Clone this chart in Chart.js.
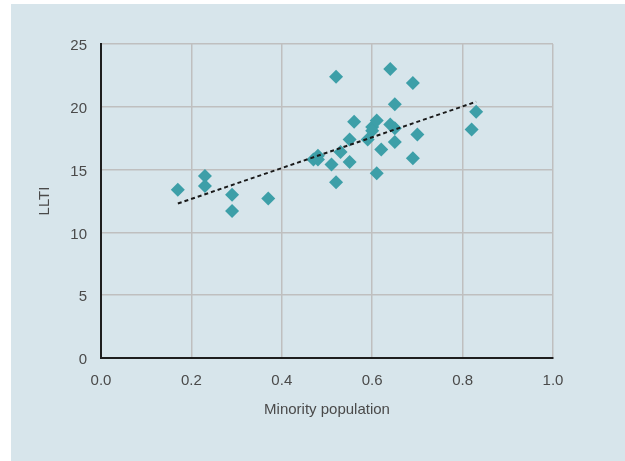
<!DOCTYPE html>
<html>
<head>
<meta charset="utf-8">
<title>LLTI vs minority population</title>
<script src="https://cdn.jsdelivr.net/npm/chart.js@4/dist/chart.umd.min.js"></script>
<style>
  html, body { margin: 0; padding: 0; background: #ffffff; }
  canvas { display: block; }
</style>
</head>
<body>
<canvas id="chart" width="625" height="461"></canvas>
<script>
// Share of minority population per area
const minorityShare = [
  0.17, 0.23, 0.23, 0.29, 0.29, 0.37,
  0.47, 0.48, 0.48, 0.51, 0.52, 0.52, 0.53,
  0.55, 0.55, 0.56, 0.59, 0.60, 0.60, 0.61, 0.61, 0.62,
  0.64, 0.64, 0.65, 0.65, 0.65, 0.69, 0.69, 0.70,
  0.82, 0.83
];
// Limiting long-term illness (LLTI) rate per area
const llti = [
  13.4, 14.5, 13.7, 13.0, 11.7, 12.7,
  15.8, 16.1, 15.8, 15.4, 22.4, 14.0, 16.4,
  17.4, 15.6, 18.8, 17.4, 18.4, 18.1, 18.9, 14.7, 16.6,
  23.0, 18.6, 20.2, 18.3, 17.2, 21.9, 15.9, 17.8,
  18.2, 19.6
];
// Linear trend line end points
const trendX = [0.17, 0.83];
const trendY = [12.3, 20.4];

const xTicks = [0, 0.2, 0.4, 0.6, 0.8, 1.0];
const yTicks = [0, 5, 10, 15, 20, 25];

const points = minorityShare.map((x, i) => ({ x: x, y: llti[i] }));
const trend = trendX.map((x, i) => ({ x: x, y: trendY[i] }));

const panelBackground = {
  id: 'panelBackground',
  beforeDraw(chart) {
    const ctx = chart.ctx;
    ctx.save();
    ctx.fillStyle = '#ffffff';
    ctx.fillRect(0, 0, chart.width, chart.height);
    ctx.fillStyle = '#d7e5eb';
    ctx.fillRect(11, 4, chart.width - 11, chart.height - 4);
    ctx.restore();
  }
};

const textColor = '#4a4a4a';
const fontFamily = '"Liberation Sans", Arial, sans-serif';

new Chart(document.getElementById('chart'), {
  type: 'scatter',
  data: {
    datasets: [
      {
        label: 'Trend',
        data: trend,
        showLine: true,
        borderColor: '#1a1a1a',
        borderWidth: 2,
        borderDash: [4, 3],
        pointRadius: 0,
        pointHoverRadius: 0,
        fill: false,
        order: 0
      },
      {
        label: 'Areas',
        data: points,
        pointStyle: 'rectRot',
        pointRadius: 7,
        pointHoverRadius: 7,
        backgroundColor: '#3d9fa8',
        borderColor: '#3d9fa8',
        borderWidth: 0,
        order: 1
      }
    ]
  },
  options: {
    responsive: false,
    animation: false,
    events: [],
    layout: { padding: { left: 0, top: 44, right: 72, bottom: 0 } },
    plugins: {
      legend: { display: false },
      tooltip: { enabled: false },
      title: { display: false }
    },
    scales: {
      x: {
        type: 'linear',
        min: 0,
        max: 1,
        afterBuildTicks: s => { s.ticks = xTicks.map(v => ({ value: v })); },
        afterFit: s => { s.height = 103; },
        ticks: {
          color: textColor,
          font: { family: fontFamily, size: 15 },
          padding: 14,
          callback: v => Number(v).toFixed(1)
        },
        grid: { color: '#bfbfbf', lineWidth: 1.5, drawTicks: false },
        border: { display: true, color: '#1e1e1e', width: 2 },
        title: {
          display: true,
          text: 'Minority population',
          color: textColor,
          font: { family: fontFamily, size: 15 },
          padding: { top: 0, bottom: 42 }
        }
      },
      y: {
        type: 'linear',
        min: 0,
        max: 25,
        afterBuildTicks: s => { s.ticks = yTicks.map(v => ({ value: v })); },
        afterFit: s => { s.width = 101; },
        ticks: {
          color: textColor,
          font: { family: fontFamily, size: 15 },
          padding: 14,
          labelOffset: 2
        },
        grid: { color: '#bfbfbf', lineWidth: 1.5, drawTicks: false },
        border: { display: true, color: '#1e1e1e', width: 2 },
        title: {
          display: true,
          text: 'LLTI',
          color: textColor,
          font: { family: fontFamily, size: 15 },
          padding: { top: 36, bottom: 0 }
        }
      }
    }
  },
  plugins: [panelBackground]
});
</script>
</body>
</html>
